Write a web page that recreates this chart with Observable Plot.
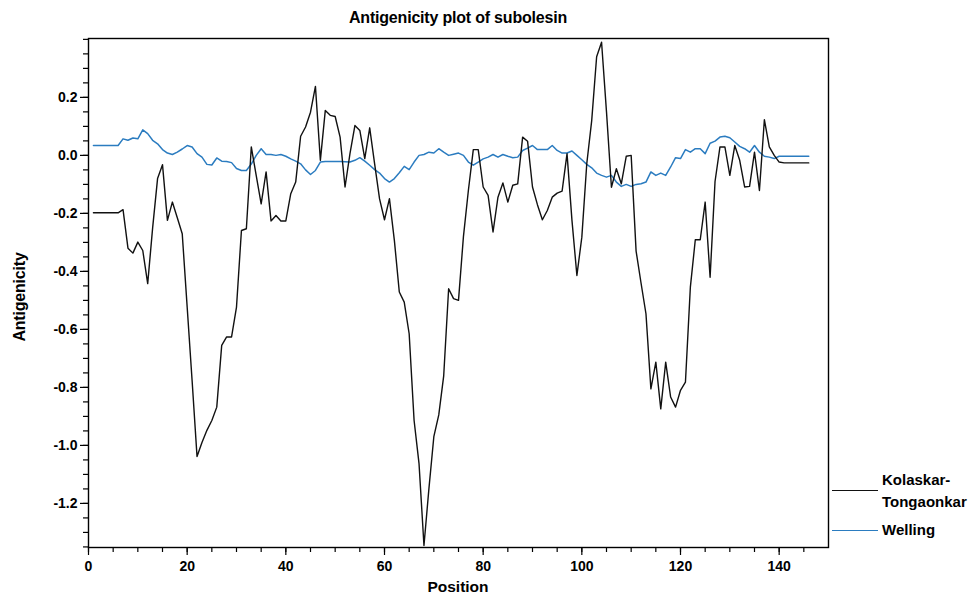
<!DOCTYPE html>
<html>
<head>
<meta charset="utf-8">
<script src="https://cdn.jsdelivr.net/npm/d3@7"></script>
<script src="https://cdn.jsdelivr.net/npm/@observablehq/plot@0.6"></script>
<style>
  html, body { margin: 0; padding: 0; background: #fff; }
  body { font-family: "Liberation Sans", Arial, Helvetica, sans-serif; }
  #wrap { position: relative; width: 978px; height: 596px; overflow: hidden; }
  #chart { position: absolute; left: 0; top: 0; }
  .lbl { position: absolute; font-weight: bold; color: #000; white-space: nowrap; }
  #title { left: 88px; width: 740px; top: 9px; text-align: center; font-size: 16px; letter-spacing: -0.2px; }
  #xlabel { left: 88px; width: 740px; top: 578px; text-align: center; font-size: 15.5px; }
  #ylabel { left: 20px; top: 297px; font-size: 16px; letter-spacing: -0.2px; transform: translate(-50%, -50%) rotate(-90deg); }
  .legline { position: absolute; left: 832px; width: 46px; height: 0; }
  .legtxt { position: absolute; left: 882px; font-size: 15px; font-weight: bold; line-height: 22px; }
</style>
</head>
<body>
<div id="wrap">
  <div id="chart"></div>
  <div id="title" class="lbl">Antigenicity plot of subolesin</div>
  <div id="xlabel" class="lbl">Position</div>
  <div id="ylabel" class="lbl">Antigenicity</div>
  <div class="legline" style="top:490px;border-top:1.5px solid #111;"></div>
  <div class="legtxt" style="top:469px;">Kolaskar-<br>Tongaonkar</div>
  <div class="legline" style="top:530px;border-top:1.5px solid #2b7cc0;"></div>
  <div class="legtxt" style="top:519px;">Welling</div>
</div>
<script>
// Residue positions (1..146)
const positions = d3.range(1, 147);

// Kolaskar-Tongaonkar antigenicity (black)
const kolaskar = [
  -0.198, -0.198, -0.198, -0.198, -0.198, -0.198, -0.187, -0.320, -0.337, -0.299,
  -0.328, -0.442, -0.250, -0.080, -0.032, -0.224, -0.161, -0.215, -0.270, -0.523,
  -0.776, -1.038, -0.990, -0.948, -0.914, -0.868, -0.655, -0.626, -0.626, -0.523,
  -0.259, -0.253, 0.029, -0.070, -0.167, -0.057, -0.226, -0.207, -0.226, -0.226,
  -0.132, -0.092, 0.066, 0.098, 0.149, 0.238, -0.017, 0.155, 0.138, 0.134,
  0.063, -0.109, 0.006, 0.103, 0.086, -0.011, 0.095, -0.029, -0.150, -0.222,
  -0.149, -0.293, -0.471, -0.506, -0.615, -0.914, -1.063, -1.345, -1.150, -0.970,
  -0.895, -0.760, -0.460, -0.494, -0.500, -0.280, -0.121, 0.020, 0.020, -0.109,
  -0.138, -0.264, -0.144, -0.095, -0.161, -0.103, -0.098, 0.063, 0.049, -0.109,
  -0.170, -0.222, -0.190, -0.144, -0.130, -0.123, 0.006, -0.224, -0.414, -0.282,
  -0.029, 0.120, 0.340, 0.390, 0.150, -0.110, -0.046, -0.098, -0.003, 0.000,
  -0.330, -0.440, -0.546, -0.805, -0.713, -0.874, -0.713, -0.833, -0.868, -0.810,
  -0.782, -0.454, -0.291, -0.291, -0.161, -0.420, -0.090, 0.029, 0.029, -0.069,
  0.034, -0.017, -0.109, -0.107, 0.011, -0.121, 0.123, 0.029, 0.000, -0.023,
  -0.026, -0.026, -0.026, -0.026, -0.026, -0.026
];

// Welling antigenicity (blue)
const welling = [
  0.034, 0.034, 0.034, 0.034, 0.034, 0.034, 0.057, 0.052, 0.060, 0.057,
  0.088, 0.075, 0.052, 0.040, 0.020, 0.008, 0.003, 0.011, 0.022, 0.034,
  0.029, 0.006, -0.006, -0.031, -0.033, -0.009, -0.020, -0.021, -0.025, -0.045,
  -0.052, -0.052, -0.030, 0.000, 0.023, 0.003, 0.003, 0.000, 0.003, -0.003,
  -0.012, -0.020, -0.029, -0.050, -0.066, -0.052, -0.023, -0.021, -0.021, -0.021,
  -0.021, -0.022, -0.023, -0.017, -0.008, -0.020, -0.034, -0.049, -0.061, -0.080,
  -0.092, -0.080, -0.060, -0.038, -0.049, -0.023, 0.000, 0.003, 0.011, 0.008,
  0.023, 0.011, 0.000, 0.004, 0.008, 0.000, -0.023, -0.034, -0.023, -0.012,
  -0.006, 0.003, -0.006, 0.003, -0.003, -0.008, -0.006, 0.017, 0.025, 0.034,
  0.020, 0.020, 0.020, 0.034, 0.017, 0.008, 0.008, 0.015, 0.000, -0.015,
  -0.031, -0.043, -0.061, -0.069, -0.075, -0.069, -0.092, -0.107, -0.100, -0.107,
  -0.100, -0.098, -0.092, -0.057, -0.069, -0.061, -0.069, -0.040, -0.008, -0.011,
  0.020, 0.011, 0.023, 0.023, 0.006, 0.042, 0.049, 0.063, 0.066, 0.061,
  0.046, 0.031, 0.023, 0.011, 0.034, 0.011, -0.003, -0.006, -0.011, -0.003,
  -0.003, -0.003, -0.003, -0.003, -0.003, -0.003
];

// Tick values
const xMajorTicks = [0, 20, 40, 60, 80, 100, 120, 140];
const xMinorTicks = [0, 5, 10, 15, 20, 25, 30, 35, 40, 45, 50, 55, 60, 65, 70, 75, 80, 85, 90, 95, 100, 105, 110, 115, 120, 125, 130, 135, 140, 145];
const yMajorTicks = [-1.2, -1.0, -0.8, -0.6, -0.4, -0.2, 0.0, 0.2];
const yMinorTicks = [-1.35, -1.3, -1.25, -1.2, -1.15, -1.1, -1.05, -1.0, -0.95, -0.9, -0.85, -0.8, -0.75, -0.7, -0.65, -0.6, -0.55, -0.5, -0.45, -0.4, -0.35, -0.3, -0.25, -0.2, -0.15, -0.1, -0.05, 0.0, 0.05, 0.1, 0.15, 0.2, 0.25, 0.3, 0.35, 0.4];

const kData = positions.map((p, i) => ({pos: p, value: kolaskar[i]}));
const wData = positions.map((p, i) => ({pos: p, value: welling[i]}));

const chart = Plot.plot({
  width: 978,
  height: 596,
  marginLeft: 88,
  marginRight: 150,
  marginTop: 38,
  marginBottom: 49,
  x: {domain: [0, 150]},
  y: {domain: [-1.352, 0.403]},
  style: {
    fontFamily: '"Liberation Sans", Arial, Helvetica, sans-serif',
    fontSize: "14px",
    fontWeight: "bold",
    color: "#000",
    background: "#fff"
  },
  marks: [
    Plot.axisX({ticks: xMinorTicks, tickSize: 5, tickFormat: () => "", label: null, strokeWidth: 1.2}),
    Plot.axisX({ticks: xMajorTicks, tickSize: 8, tickPadding: 6, tickFormat: d => String(d), label: null, strokeWidth: 1.2}),
    Plot.axisY({ticks: yMinorTicks, tickSize: 5, tickFormat: () => "", label: null, strokeWidth: 1.2}),
    Plot.axisY({ticks: yMajorTicks, tickSize: 8, tickPadding: 3, tickFormat: d => d.toFixed(1), label: null, strokeWidth: 1.2}),
    Plot.line(wData, {x: "pos", y: "value", stroke: "#2b7cc0", strokeWidth: 1.5}),
    Plot.line(kData, {x: "pos", y: "value", stroke: "#111", strokeWidth: 1.4}),
    Plot.frame({stroke: "#000", strokeWidth: 1.4})
  ]
});
document.getElementById("chart").appendChild(chart);
</script>
</body>
</html>
